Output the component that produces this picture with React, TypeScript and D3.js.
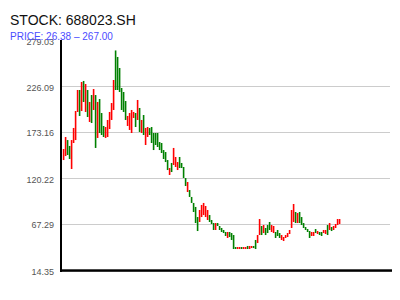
import React from "react";
import * as d3 from "d3";

const TITLE = "STOCK: 688023.SH";
const SUBTITLE = "PRICE: 26.38 – 267.00";

const tickValues = [14.35, 67.29, 120.22, 173.16, 226.09, 279.03];
const tickLabels = ["14.35", "67.29", "120.22", "173.16", "226.09", "279.03"];

const highs = [
  153.6, 167.4, 163.9, 157.1, 163.9, 177.8, 197.3, 221.5, 221.5, 230.7,
  231.9, 228.4, 221.5, 207.7, 215.7, 222.6, 215.7, 207.7, 211.1, 195.0,
  180.1, 178.9, 187.0, 196.2, 206.5, 233.0, 267.0, 259.5, 246.8, 223.8,
  219.2, 208.8, 191.6, 195.0, 198.5, 196.2, 195.0, 210.0, 200.8, 187.0,
  192.7, 177.8, 178.9, 177.8, 178.9, 172.0, 172.0, 172.0, 161.6, 160.5,
  152.4, 150.1, 140.9, 131.7, 137.5, 154.8, 144.4, 138.6, 144.4, 137.5,
  132.9, 120.2, 115.6, 106.4, 98.4, 91.5, 86.9, 75.3, 83.4, 89.2,
  91.5, 88.0, 83.4, 77.6, 71.9, 68.4, 68.4, 68.4, 65.0, 62.7,
  60.4, 58.1, 58.1, 58.1, 56.9, 54.6, 40.8, 40.8, 40.8, 40.8,
  40.8, 40.8, 42.0, 42.0, 42.0, 42.0, 48.9, 54.6, 73.0, 65.0,
  66.1, 62.7, 66.1, 69.6, 66.1, 65.0, 58.1, 60.4, 56.9, 54.6,
  52.3, 54.6, 56.9, 60.4, 83.4, 90.3, 81.1, 79.9, 81.1, 75.3,
  68.4, 63.8, 61.5, 59.2, 58.1, 58.1, 61.5, 59.2, 58.1, 58.1,
  60.4, 60.4, 66.1, 68.4, 63.8, 65.0, 67.3, 73.0, 73.0,
];

const lows = [
  140.9, 145.5, 146.7, 142.1, 130.6, 160.5, 163.9, 196.2, 191.6, 197.3,
  207.7, 196.2, 190.4, 184.7, 183.5, 198.5, 154.8, 166.3, 172.0, 169.7,
  167.4, 166.3, 167.4, 176.6, 187.0, 198.5, 221.5, 221.5, 219.2, 198.5,
  196.2, 187.0, 180.1, 175.5, 172.0, 189.3, 178.9, 187.0, 173.2, 172.0,
  169.7, 158.2, 167.4, 169.7, 160.5, 152.4, 158.2, 155.9, 152.4, 149.0,
  142.1, 138.6, 129.4, 123.7, 127.1, 135.2, 132.9, 129.4, 131.7, 131.7,
  120.2, 111.0, 104.1, 98.4, 91.5, 81.1, 68.4, 59.2, 69.6, 75.3,
  77.6, 75.3, 71.9, 69.6, 67.3, 60.4, 60.4, 65.0, 60.4, 58.1,
  56.9, 53.5, 51.2, 52.3, 48.9, 38.5, 38.5, 38.5, 38.5, 38.5,
  38.5, 38.5, 38.5, 38.5, 39.6, 39.6, 38.5, 45.4, 54.6, 54.6,
  56.9, 54.6, 56.9, 60.4, 58.1, 56.9, 51.2, 53.5, 51.2, 48.9,
  47.7, 51.2, 52.3, 55.8, 62.7, 69.6, 68.4, 68.4, 68.4, 66.1,
  62.7, 60.4, 58.1, 51.2, 53.5, 53.5, 56.9, 55.8, 54.6, 53.5,
  56.9, 55.8, 54.6, 60.4, 59.2, 60.4, 62.7, 66.1, 67.3,
];

// "r" = rising (red), "g" = falling (green)
const dirs =
  "rrggrrrrgrgrgrgrgrgggrrrrrggggggrrrrgrgrgrrggggggggggrgrrrggggrgggggrrrrrgggrgggggr" +
  "ggggrrgrrgrrggrrgrgggrrgggrrrrrrrgrggggggrrgrggrrgrgrrrrg";

const UP_COLOR = "rgb(255,0,0)";
const DOWN_COLOR = "rgb(0,128,0)";

const W = 400;
const H = 300;

export default function App() {
  const n = highs.length;
  const x = d3
    .scaleBand<number>()
    .domain(d3.range(n))
    .range([63, 63 + 2 * n]);
  const y = d3.scaleLinear().domain([14.35, 279.03]).range([270, 40]);

  return (
    <svg
      width={W}
      height={H}
      style={{ position: "absolute", left: 0, top: 0, background: "#fff" }}
      fontFamily="'Liberation Sans', Arial, Helvetica, sans-serif"
    >
      <rect width={W} height={H} fill="#fff" />
      {tickValues.slice(1, -1).map((v, i) => (
        <line
          key={"g" + i}
          x1={62}
          x2={390}
          y1={Math.round(y(v)) + 0.5}
          y2={Math.round(y(v)) + 0.5}
          stroke="#cccccc"
          strokeWidth={1}
        />
      ))}
      <g>
        {highs.map((h, i) => (
          <rect
            key={"b" + i}
            x={(x(i) as number) - 0.2}
            y={y(h)}
            width={1.6}
            height={Math.max(1.2, y(lows[i]) - y(h))}
            style={{ fill: dirs.charAt(i) === "r" ? UP_COLOR : DOWN_COLOR }}
          />
        ))}
      </g>
      {tickValues.map((v, i) => (
        <text
          key={"t" + i}
          x={54}
          y={y(v) + 4.5}
          textAnchor="end"
          fontSize={9}
          fill="#555"
        >
          {tickLabels[i]}
        </text>
      ))}
      <rect x={60} y={40} width={2} height={232} fill="#000" />
      <rect x={60} y={269.3} width={332} height={2.5} fill="#000" />
      <text x={10} y={25} fontSize={14} fill="#111">
        {TITLE}
      </text>
      <text x={10} y={40} fontSize={10} fill="#4b4bff">
        {SUBTITLE}
      </text>
    </svg>
  );
}
